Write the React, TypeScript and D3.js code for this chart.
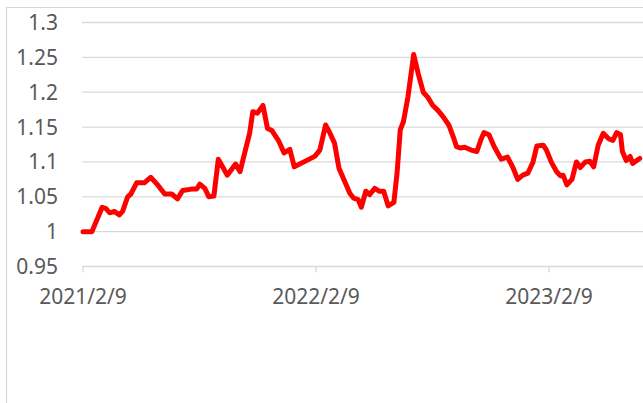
import * as d3 from "d3";

const dates = [
  "2021-02-09", "2021-02-23", "2021-03-11", "2021-03-17", "2021-03-23", "2021-03-30",
  "2021-04-07", "2021-04-12", "2021-04-20", "2021-04-25", "2021-05-04", "2021-05-16",
  "2021-05-26", "2021-06-06", "2021-06-17", "2021-06-28", "2021-07-07", "2021-07-15",
  "2021-07-29", "2021-08-06", "2021-08-11", "2021-08-19", "2021-08-25", "2021-09-02",
  "2021-09-09", "2021-09-23", "2021-10-06", "2021-10-13", "2021-10-20", "2021-10-28",
  "2021-11-02", "2021-11-09", "2021-11-18", "2021-11-25", "2021-12-02", "2021-12-12",
  "2021-12-21", "2021-12-30", "2022-01-06", "2022-02-07", "2022-02-15", "2022-02-24",
  "2022-03-02", "2022-03-10", "2022-03-17", "2022-03-26", "2022-04-03", "2022-04-09",
  "2022-04-16", "2022-04-21", "2022-04-28", "2022-05-04", "2022-05-12", "2022-05-19",
  "2022-05-26", "2022-06-02", "2022-06-11", "2022-06-16", "2022-06-21", "2022-06-26",
  "2022-07-03", "2022-07-12", "2022-07-19", "2022-07-27", "2022-08-03", "2022-08-11",
  "2022-08-19", "2022-08-27", "2022-09-05", "2022-09-12", "2022-09-17", "2022-09-23",
  "2022-09-30", "2022-10-10", "2022-10-19", "2022-10-25", "2022-10-30", "2022-11-07",
  "2022-11-15", "2022-11-26", "2022-12-06", "2022-12-14", "2022-12-22", "2022-12-30",
  "2023-01-07", "2023-01-15", "2023-01-21", "2023-01-31", "2023-02-05", "2023-02-13",
  "2023-02-21", "2023-02-27", "2023-03-03", "2023-03-09", "2023-03-17", "2023-03-24",
  "2023-03-30", "2023-04-07", "2023-04-14", "2023-04-20", "2023-04-27", "2023-05-05",
  "2023-05-14", "2023-05-20", "2023-05-26", "2023-06-01", "2023-06-04", "2023-06-10",
  "2023-06-16", "2023-06-20", "2023-07-01",
];

const values = [
  1.0, 1.0, 1.035, 1.033, 1.027, 1.029,
  1.024, 1.029, 1.05, 1.054, 1.07, 1.07,
  1.078, 1.067, 1.054, 1.054, 1.047, 1.059,
  1.061, 1.061, 1.068, 1.062, 1.05, 1.051,
  1.104, 1.081, 1.097, 1.086, 1.112, 1.141,
  1.172, 1.17, 1.181, 1.148, 1.145, 1.131,
  1.113, 1.118, 1.093, 1.108, 1.117, 1.153,
  1.143, 1.127, 1.091, 1.072, 1.055, 1.048,
  1.046, 1.035, 1.058, 1.053, 1.062, 1.058,
  1.058, 1.037, 1.042, 1.084, 1.146, 1.158,
  1.193, 1.254, 1.227, 1.2, 1.193, 1.181,
  1.174, 1.165, 1.153, 1.136, 1.122, 1.12,
  1.121, 1.117, 1.115, 1.131, 1.142, 1.139,
  1.122, 1.104, 1.107, 1.093, 1.075, 1.081,
  1.084, 1.1, 1.123, 1.124, 1.117, 1.099,
  1.086, 1.08, 1.081, 1.067, 1.075, 1.1,
  1.092, 1.1, 1.101, 1.093, 1.124, 1.141,
  1.133, 1.131, 1.142, 1.139, 1.115, 1.102,
  1.108, 1.098, 1.105,
];

const yTicks = [0.95, 1, 1.05, 1.1, 1.15, 1.2, 1.25, 1.3];
const xTickDates = ["2021-02-09", "2022-02-09", "2023-02-09"];

const width = 643;
const height = 403;
const plotLeft = 82;
const gridColor = "#d9d9d9";
const textColor = "#595959";
const font = "'Noto Sans', 'Open Sans', sans-serif";

export default function App() {
  const parse = d3.timeParse("%Y-%m-%d");
  const fmt = d3.timeFormat("%Y/%-m/%-d");
  const points = dates.map((d, i) => ({ date: parse(d) as Date, value: values[i] }));

  const x = d3
    .scaleTime()
    .domain([parse("2021-02-09") as Date, parse("2023-02-09") as Date])
    .range([83, 549]);

  const y = d3.scaleLinear().domain([0.95, 1.3]).range([266.5, 22.5]);

  const line = d3
    .line<{ date: Date; value: number }>()
    .x((d) => x(d.date))
    .y((d) => y(d.value));

  return (
    <svg
      width={width}
      height={height}
      style={{ position: "absolute", left: 0, top: 0, background: "#fff" }}
    >
      {/* chart area border */}
      <path d={`M6.5,${height} V7.5 H${width}`} fill="none" stroke={gridColor} strokeWidth={1.2} />

      {yTicks.map((t) => (
        <g key={t}>
          <line x1={plotLeft} x2={width} y1={y(t)} y2={y(t)} stroke={gridColor} strokeWidth={1.3} />
          <text
            x={58}
            y={y(t)}
            dy="0.36em"
            textAnchor="end"
            fontFamily={font}
            fontSize={21}
            fill={textColor}
          >
            {t}
          </text>
        </g>
      ))}

      {xTickDates.map((d) => {
        const xp = x(parse(d) as Date);
        return (
          <g key={d}>
            <line x1={xp} x2={xp} y1={y(0.95)} y2={y(0.95) + 6} stroke={gridColor} strokeWidth={1.3} />
            <text
              x={xp}
              y={304}
              textAnchor="middle"
              fontFamily={font}
              fontSize={21}
              fill={textColor}
            >
              {fmt(parse(d) as Date)}
            </text>
          </g>
        );
      })}

      <path
        d={line(points) || ""}
        fill="none"
        stroke="#ff0000"
        strokeWidth={5}
        strokeLinejoin="round"
        strokeLinecap="round"
      />
    </svg>
  );
}
